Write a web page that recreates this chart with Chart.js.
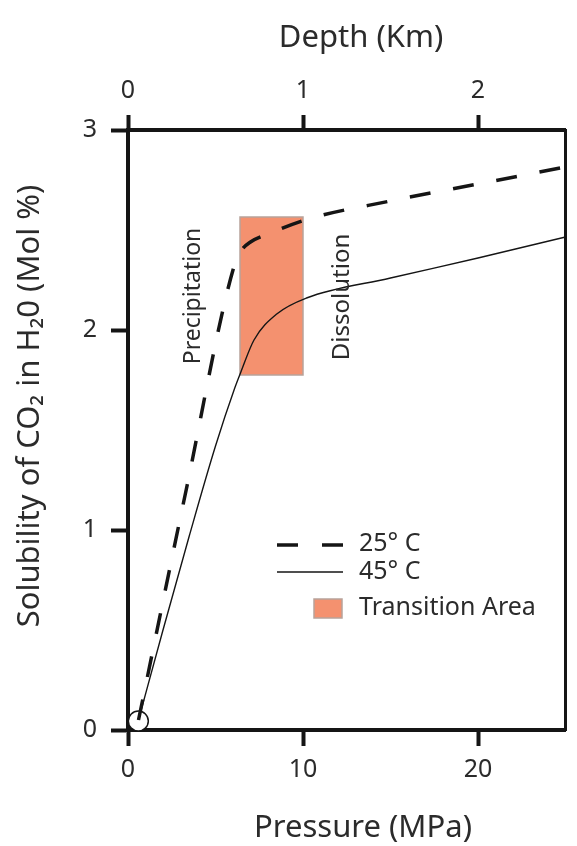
<!DOCTYPE html>
<html lang="en">
<head>
<meta charset="UTF-8">
<title>Solubility of CO2</title>
<script src="https://cdn.jsdelivr.net/npm/chart.js"></script>
<style>
  body { margin: 0; background: #fff; }
  canvas { display: block; }
</style>
</head>
<body>
<canvas id="solChart" width="577" height="846"></canvas>
<script>
// values (pressure in MPa, solubility in mol %)
const pressure25 = [0.6, 3.3, 6.1, 6.5, 7.0, 8.0, 10.3, 15, 20, 25];
const solubility25 = [0.05, 1.19, 2.33, 2.40, 2.44, 2.48, 2.555, 2.645, 2.73, 2.815];
const pressure45 = [0.6, 2.0, 3.5, 5.0, 6.1, 6.45, 7.2, 8.5, 10.2, 15, 20, 25];
const solubility45 = [0.05, 0.50, 0.97, 1.42, 1.71, 1.79, 1.95, 2.08, 2.16, 2.26, 2.36, 2.465];
const transitionPressure = [6.4, 10];
const transitionSolubility = [1.775, 2.565];
const startPoint = [0.59, 0.045];
const pressureTicks = [0, 10, 20];
const depthTicks = [0, 1, 2];
const solubilityTicks = [0, 1, 2, 3];

const FONT = "'Noto Sans', sans-serif";
const INK = '#2b2b2b';
const LINE = '#151515';
const SALMON = '#f4916f';

// text labels placed in data coordinates
const noteSpots = {
  precipitation: [3.75, 2.17],
  dissolution: [12.25, 2.165]
};

const transitionBox = {
  id: 'transitionBox',
  beforeDatasetsDraw(chart) {
    const { ctx, scales: { x, y } } = chart;
    const l = x.getPixelForValue(transitionPressure[0]);
    const r = x.getPixelForValue(transitionPressure[1]);
    const t = y.getPixelForValue(transitionSolubility[1]);
    const b = y.getPixelForValue(transitionSolubility[0]);
    ctx.save();
    ctx.fillStyle = SALMON;
    ctx.fillRect(l, t, r - l, b - t);
    ctx.strokeStyle = '#b8a39a';
    ctx.lineWidth = 1.5;
    ctx.strokeRect(l, t, r - l, b - t);
    ctx.restore();
  }
};

function rotatedText(ctx, text, cx, cy, size) {
  ctx.save();
  ctx.translate(cx, cy);
  ctx.rotate(-Math.PI / 2);
  ctx.font = size + 'px ' + FONT;
  ctx.textAlign = 'center';
  ctx.textBaseline = 'middle';
  ctx.fillText(text, 0, 0);
  ctx.restore();
}

const notes = {
  id: 'notes',
  afterDraw(chart) {
    const { ctx, scales: { x, y }, chartArea } = chart;
    ctx.save();
    ctx.fillStyle = INK;

    // axis titles
    ctx.font = '31px ' + FONT;
    ctx.textAlign = 'center';
    ctx.textBaseline = 'middle';
    ctx.fillText('Depth (Km)', 361, 38);
    ctx.fillText('Pressure (MPa)', 363, 828);
    rotatedText(ctx, 'Solubility of CO\u2082 in H\u20820 (Mol %)', 30, 406, 31);

    // region labels
    const p = noteSpots.precipitation, d = noteSpots.dissolution;
    rotatedText(ctx, 'Precipitation', x.getPixelForValue(p[0]), y.getPixelForValue(p[1]), 23);
    rotatedText(ctx, 'Dissolution', x.getPixelForValue(d[0]), y.getPixelForValue(d[1]), 24);

    // legend
    const lx = chartArea.left + 149;
    ctx.strokeStyle = LINE;
    ctx.lineWidth = 3.5;
    ctx.setLineDash([21, 24]);
    ctx.beginPath(); ctx.moveTo(lx, 545); ctx.lineTo(lx + 66, 545); ctx.stroke();
    ctx.setLineDash([]);
    ctx.lineWidth = 1.6;
    ctx.beginPath(); ctx.moveTo(lx, 572); ctx.lineTo(lx + 66, 572); ctx.stroke();
    ctx.fillStyle = SALMON;
    ctx.fillRect(lx + 37, 599, 28, 19);
    ctx.strokeStyle = '#b8a39a';
    ctx.lineWidth = 1.5;
    ctx.strokeRect(lx + 37, 599, 28, 19);
    ctx.fillStyle = INK;
    ctx.font = '25px ' + FONT;
    ctx.textAlign = 'left';
    ctx.fillText('25\u00b0 C', lx + 82, 544);
    ctx.fillText('45\u00b0 C', lx + 82, 572);
    ctx.fillText('Transition Area', lx + 82, 608);
    ctx.restore();
  }
};

const tickFont = { family: FONT, size: 25 };

new Chart(document.getElementById('solChart'), {
  type: 'line',
  data: {
    datasets: [
      {
        label: '25° C',
        data: pressure25.map((p, i) => ({ x: p, y: solubility25[i] })),
        borderColor: LINE,
        borderWidth: 3.5,
        borderDash: [21, 23],
        pointRadius: 0,
        cubicInterpolationMode: 'monotone',
        fill: false
      },
      {
        label: '45° C',
        data: pressure45.map((p, i) => ({ x: p, y: solubility45[i] })),
        borderColor: LINE,
        borderWidth: 1.4,
        pointRadius: 0,
        cubicInterpolationMode: 'monotone',
        fill: false
      },
      {
        label: 'start',
        data: [{ x: startPoint[0], y: startPoint[1] }],
        showLine: false,
        pointRadius: 10,
        pointBackgroundColor: '#fff',
        pointBorderColor: LINE,
        pointBorderWidth: 1.5,
        clip: false
      }
    ]
  },
  options: {
    responsive: false,
    animation: false,
    events: [],
    layout: { padding: 0 },
    plugins: { legend: { display: false }, tooltip: { enabled: false } },
    scales: {
      x: {
        type: 'linear', position: 'bottom', min: 0, max: 25,
        afterBuildTicks: s => { s.ticks = pressureTicks.map(v => ({ value: v })); },
        afterFit: s => { s.height = 116; },
        ticks: { font: tickFont, color: INK, padding: 9, maxRotation: 0, autoSkip: false },
        grid: { drawOnChartArea: false, tickLength: 16, tickWidth: 4, tickColor: LINE },
        border: { width: 4, color: LINE }
      },
      x2: {
        type: 'linear', position: 'top', min: 0, max: 2.5,
        afterBuildTicks: s => { s.ticks = depthTicks.map(v => ({ value: v })); },
        afterFit: s => { s.height = 130; },
        ticks: { font: tickFont, color: INK, padding: 9, maxRotation: 0, autoSkip: false },
        grid: { drawOnChartArea: false, tickLength: 15, tickWidth: 4, tickColor: LINE },
        border: { width: 4, color: LINE }
      },
      y: {
        type: 'linear', position: 'left', min: 0, max: 3,
        afterBuildTicks: s => { s.ticks = solubilityTicks.map(v => ({ value: v })); },
        afterFit: s => { s.width = 128; },
        ticks: { font: tickFont, color: INK, padding: 14 },
        grid: { drawOnChartArea: false, tickLength: 17, tickWidth: 4, tickColor: LINE },
        border: { width: 4, color: LINE }
      },
      y2: {
        type: 'linear', position: 'right', min: 0, max: 3,
        afterFit: s => { s.width = 2; },
        ticks: { display: false },
        grid: { display: false },
        border: { width: 3, color: LINE }
      }
    }
  },
  plugins: [transitionBox, notes]
});
</script>
</body>
</html>
